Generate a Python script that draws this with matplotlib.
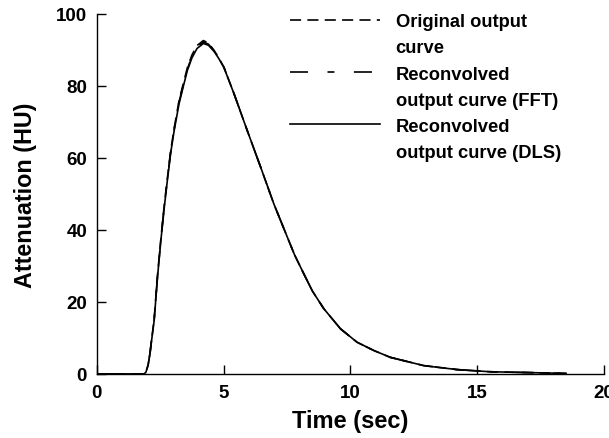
import matplotlib
matplotlib.use("Agg")
import matplotlib.pyplot as plt
from matplotlib.lines import Line2D

plt.rcParams['font.family'] = ['Liberation Sans', 'DejaVu Sans']
plt.rcParams['font.weight'] = 'bold'
plt.rcParams['lines.scale_dashes'] = False

time_sec = [0.0, 1.85, 1.93, 2.02, 2.10, 2.15, 2.26, 2.39, 2.52, 2.65, 2.78, 2.91,
            3.05, 3.24, 3.40, 3.57, 3.75, 3.95, 4.20, 4.40, 4.62, 4.80, 5.01,
            5.41, 5.93, 6.46, 6.98, 7.51, 7.80, 8.16, 8.50, 8.95, 9.61, 10.26,
            10.92, 11.57, 12.89, 14.2, 15.5, 16.8, 18.1, 18.5]
original = [0.0, 0.0, 0.5, 2.5, 6.0, 9.0, 15.2, 27.3, 37.2, 46.3, 54.3, 61.9,
            68.3, 75.9, 80.4, 85.1, 88.6, 91.2, 92.6, 91.9, 89.9, 87.9, 85.2,
            77.8, 67.6, 57.4, 47.2, 38.0, 33.0, 27.8, 23.0, 18.1, 12.5, 8.8,
            6.5, 4.6, 2.3, 1.2, 0.6, 0.4, 0.2, 0.15]
fft = [0.0, 0.0, 0.5, 2.5, 6.0, 9.0, 15.0, 27.0, 37.0, 46.0, 54.0, 61.6,
       68.0, 75.5, 80.0, 84.7, 88.2, 90.8, 92.2, 91.6, 89.8, 87.8, 85.2,
       77.8, 67.6, 57.4, 47.2, 38.0, 33.0, 27.8, 23.0, 18.1, 12.5, 8.8,
       6.5, 4.6, 2.3, 1.2, 0.6, 0.4, 0.2, 0.15]
dls = [0.0, 0.0, 0.4, 2.3, 5.8, 8.8, 14.8, 26.7, 36.7, 45.7, 53.7, 61.3,
       67.6, 75.0, 79.6, 84.3, 87.8, 90.4, 91.8, 91.3, 89.6, 87.7, 85.1,
       77.8, 67.6, 57.4, 47.2, 38.0, 33.0, 27.8, 23.0, 18.1, 12.5, 8.8,
       6.5, 4.6, 2.3, 1.2, 0.6, 0.4, 0.2, 0.15]

x_ticks = [0, 5, 10, 15, 20]
y_ticks = [0, 20, 40, 60, 80, 100]

fig = plt.figure(figsize=(6.09, 4.39), dpi=100)
ax = fig.add_axes([0.159, 0.146, 0.833, 0.820])

lw = 1.2
ax.plot(time_sec, original, color='black', lw=lw, dashes=(8, 4.5))
ax.plot(time_sec, fft, color='black', lw=lw, dashes=(13, 14, 5, 14))
ax.plot(time_sec, dls, color='black', lw=lw)

ax.set_xlim(0, 20)
ax.set_ylim(0, 100)
ax.set_xticks(x_ticks)
ax.set_yticks(y_ticks)
ax.tick_params(direction='in', length=6.5, width=1, labelsize=13.5, pad=7)
for lab in ax.get_xticklabels() + ax.get_yticklabels():
    lab.set_fontweight('bold')
ax.spines['top'].set_visible(False)
ax.spines['right'].set_visible(False)
ax.spines['left'].set_linewidth(1)
ax.spines['bottom'].set_linewidth(1)

ax.set_xlabel('Time (sec)', fontsize=17, fontweight='bold', labelpad=6)
ax.set_ylabel('Attenuation (HU)', fontsize=16.8, fontweight='bold', labelpad=14)

blank = Line2D([], [], linestyle='none')
handles = [Line2D([], [], color='black', lw=lw, dashes=(8, 4.5)), blank,
           Line2D([], [], color='black', lw=lw, dashes=(13, 14, 5, 14)), blank,
           Line2D([], [], color='black', lw=lw), blank]
labels = ['Original output', 'curve', 'Reconvolved', 'output curve (FFT)',
          'Reconvolved', 'output curve (DLS)']
leg = ax.legend(handles, labels, loc='upper left', bbox_to_anchor=(0.381, 1.002),
                frameon=False, handlelength=4.9, handletextpad=0.85,
                labelspacing=0.5, borderpad=0, borderaxespad=0,
                prop={'weight': 'bold', 'size': 13.2})

fig.savefig('out.png', dpi=100)
